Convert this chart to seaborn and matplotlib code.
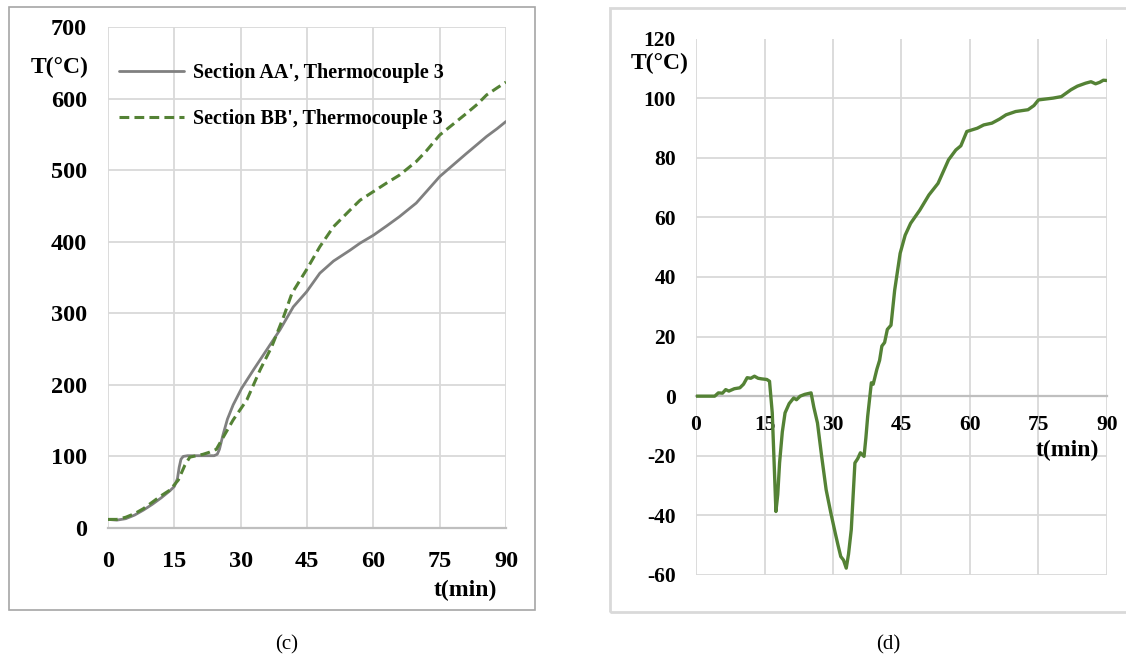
import matplotlib
matplotlib.use("Agg")
import matplotlib.pyplot as plt
import seaborn as sns
import pandas as pd
from matplotlib.patches import Rectangle

# ---------------- data ----------------
# Panel (c): Section AA', Thermocouple 3
t_aa = [0, 2, 4, 6, 8, 10, 12, 14, 15, 15.7,
        16.1, 16.5, 17, 18, 20, 22, 24, 24.7, 25.2, 26,
        27, 28.3, 30.2, 32.9, 35.9, 38.9, 41.9, 44.9, 47.9, 51,
        54.7, 57, 60, 63, 65.9, 69.7, 72, 75, 78, 81,
        83.5, 85.6, 88, 90]
T_aa = [12, 11, 13, 18, 25, 33, 42, 52, 58, 69,
        85, 96, 100, 101, 101, 101, 101, 103, 110, 130,
        152, 172, 195, 221, 249, 277, 309, 330, 356, 373,
        388, 398, 409, 422, 435, 454, 470, 491, 507, 523,
        536, 547, 558, 568]

# Panel (c): Section BB', Thermocouple 3
t_bb = [0, 2, 4, 6, 8, 10, 12, 14, 15.9, 17.4,
        18.5, 20, 21.5, 23, 24.5, 25.7, 28.3, 31.4, 34.4, 37,
        39.7, 41.6, 43.4, 45, 47.9, 51, 54.7, 57, 60, 63,
        65.9, 69.7, 72, 75, 78, 81, 83.5, 85.6, 88, 90]
T_bb = [12, 12, 15, 20, 27, 36, 45, 53, 67, 88,
        99, 101, 103, 106, 110, 123, 151, 179, 221, 253,
        295, 328, 346, 362, 393, 421, 444, 458, 470, 482,
        493, 512, 527, 549, 564, 579, 592, 605, 615, 623]

# Panel (d)
t_d = [0, 2, 4.1, 4.9, 5.8, 6.5, 7.2, 8.4, 9.6, 10.4,
       11.2, 12.0, 12.8, 13.6, 14.4, 15.5, 16.1, 16.7, 17.1, 17.5,
       17.9, 18.3, 18.9, 19.5, 20.4, 21.4, 22.0, 22.8, 23.8, 25.2,
       25.8, 26.6, 27.5, 28.5, 29.5, 30.5, 31.1, 31.7, 32.3, 32.9,
       33.4, 34.0, 34.8, 35.4, 36.0, 36.8, 37.2, 37.6, 38.4, 38.8,
       39.6, 40.2, 40.7, 41.3, 41.9, 42.7, 43.5, 44.7, 45.8, 47.0,
       49.0, 51.0, 53.0, 55.3, 56.9, 58.0, 59.3, 61.6, 63.0, 64.8,
       66.5, 67.9, 70.0, 72.7, 74.0, 75.0, 78.2, 80.0, 82.1, 83.5,
       85.3, 86.5, 87.5, 88.4, 89.2, 90.0]
T_d = [0, 0, 0, 1.1, 1.0, 2.2, 1.7, 2.5, 2.8, 4.0,
       6.2, 6.0, 6.7, 6.0, 5.8, 5.6, 5.0, -5.6, -22, -38.7,
       -33, -22.4, -12, -5.6, -2.5, -0.6, -1.2, 0.0, 0.6, 1.1,
       -3.7, -9, -20, -31.4, -39, -46, -50, -53.8, -55, -57.7,
       -53, -44.8, -22.4, -21, -19, -20.2, -14, -6.7, 4.5, 4.0,
       9, 12, 16.8, 18, 22.4, 23.8, 35.5, 47.9, 54, 58,
       62.4, 67.5, 71.4, 79.3, 82.6, 84, 88.8, 89.9, 91, 91.6,
       93, 94.4, 95.5, 96.1, 97.5, 99.4, 100, 100.5, 102.8, 104,
       105, 105.5, 104.8, 105.3, 106, 105.9]

xticks = [0, 15, 30, 45, 60, 75, 90]
yticks_c = [0, 100, 200, 300, 400, 500, 600, 700]
yticks_d = [-60, -40, -20, 0, 20, 40, 60, 80, 100, 120]
label_aa = "Section AA', Thermocouple 3"
label_bb = "Section BB', Thermocouple 3"

# ---------------- style ----------------
sns.set_theme(style="white")
plt.rcParams['font.family'] = ['Liberation Serif', 'DejaVu Serif']
plt.rcParams['axes.unicode_minus'] = False
plt.rcParams['text.color'] = 'black'
plt.rcParams['xtick.color'] = 'black'
plt.rcParams['ytick.color'] = 'black'
plt.rcParams['xtick.labelcolor'] = 'black'
plt.rcParams['ytick.labelcolor'] = 'black'

GREY = '#808080'
GREEN = '#548235'
GRID = '#d9d9d9'

W, H = 1126, 660
fig = plt.figure(figsize=(W / 100, H / 100), dpi=100)

# panel frames
fig.patches.append(Rectangle((9 / W, 1 - 610 / H), 526 / W, 603 / H,
                             transform=fig.transFigure, fill=False,
                             edgecolor='#a6a6a6', lw=1.2, zorder=0))
fig.patches.append(Rectangle((610 / W, 1 - 612 / H), 530 / W, 604 / H,
                             transform=fig.transFigure, fill=False,
                             edgecolor='#d9d9d9', lw=2.0, zorder=0))

# ---------------- panel (c) ----------------
axc = fig.add_axes([108 / W, 1 - 528 / H, 398 / W, 501 / H])
df_aa = pd.DataFrame({'t': t_aa, 'T': T_aa})
df_bb = pd.DataFrame({'t': t_bb, 'T': T_bb})
sns.lineplot(data=df_aa, x='t', y='T', ax=axc, color=GREY, lw=2.0,
             label=label_aa, zorder=3)
sns.lineplot(data=df_bb, x='t', y='T', ax=axc, color=GREEN, lw=2.2,
             linestyle=(0, (3.2, 1.7)), label=label_bb, zorder=4)
axc.set_xlim(0, 90)
axc.set_ylim(0, 700)
axc.set_xticks(xticks)
axc.set_yticks(yticks_c)
axc.grid(True, color=GRID, lw=1.3)
axc.set_axisbelow(True)
for s in ['left', 'top', 'right']:
    axc.spines[s].set_visible(False)
axc.spines['bottom'].set_color('#bfbfbf')
axc.spines['bottom'].set_linewidth(1.6)
axc.tick_params(axis='both', length=0, labelsize=17.5, labelcolor='black')
axc.tick_params(axis='x', pad=16.5)
axc.tick_params(axis='y', pad=15)
for lab in axc.get_xticklabels() + axc.get_yticklabels():
    lab.set_fontweight('bold')
axc.set_xlabel('')
axc.set_ylabel('')
axc.text(-0.048, 0.92, 'T(°C)', transform=axc.transAxes, ha='right',
         va='center', fontsize=17, fontweight='bold', color='black')
axc.text(0.977, -0.124, 't(min)', transform=axc.transAxes, ha='right',
         va='center', fontsize=17, fontweight='bold', color='black')
leg = axc.legend(loc='upper left', bbox_to_anchor=(0.028, 0.928),
                 frameon=False, fontsize=14.5, handlelength=3.2,
                 handletextpad=0.45, labelspacing=1.3, borderpad=0,
                 borderaxespad=0)
for txt in leg.get_texts():
    txt.set_fontweight('bold')
    txt.set_color('black')

# ---------------- panel (d) ----------------
axd = fig.add_axes([696 / W, 1 - 575 / H, 411 / W, 536.5 / H])
df_d = pd.DataFrame({'t': t_d, 'T': T_d})
sns.lineplot(data=df_d, x='t', y='T', ax=axd, color=GREEN, lw=2.4, zorder=3)
axd.set_xlim(0, 90)
axd.set_ylim(-60, 120)
axd.set_xticks(xticks)
axd.set_yticks(yticks_d)
axd.grid(True, color=GRID, lw=1.3)
axd.set_axisbelow(True)
for s in ['left', 'top', 'right']:
    axd.spines[s].set_visible(False)
axd.spines['bottom'].set_position(('data', 0))
axd.spines['bottom'].set_color('#bfbfbf')
axd.spines['bottom'].set_linewidth(1.6)
axd.tick_params(axis='both', length=0, labelsize=15.5, labelcolor='black')
axd.tick_params(axis='x', pad=13.5)
axd.tick_params(axis='y', pad=14.5)
for lab in axd.get_xticklabels() + axd.get_yticklabels():
    lab.set_fontweight('bold')
axd.set_xlabel('')
axd.set_ylabel('')
axd.text(-0.017, 0.954, 'T(°C)', transform=axd.transAxes, ha='right',
         va='center', fontsize=17, fontweight='bold', color='black')
axd.text(0.98, 0.233, 't(min)', transform=axd.transAxes, ha='right',
         va='center', fontsize=17, fontweight='bold', color='black')

# ---------------- sub-captions ----------------
fig.text(287 / W, 1 - 645 / H, '(c)', ha='center', va='center', fontsize=15,
         color='black')
fig.text(888 / W, 1 - 645 / H, '(d)', ha='center', va='center', fontsize=15,
         color='black')

fig.savefig('out.png', dpi=100, facecolor='white')
